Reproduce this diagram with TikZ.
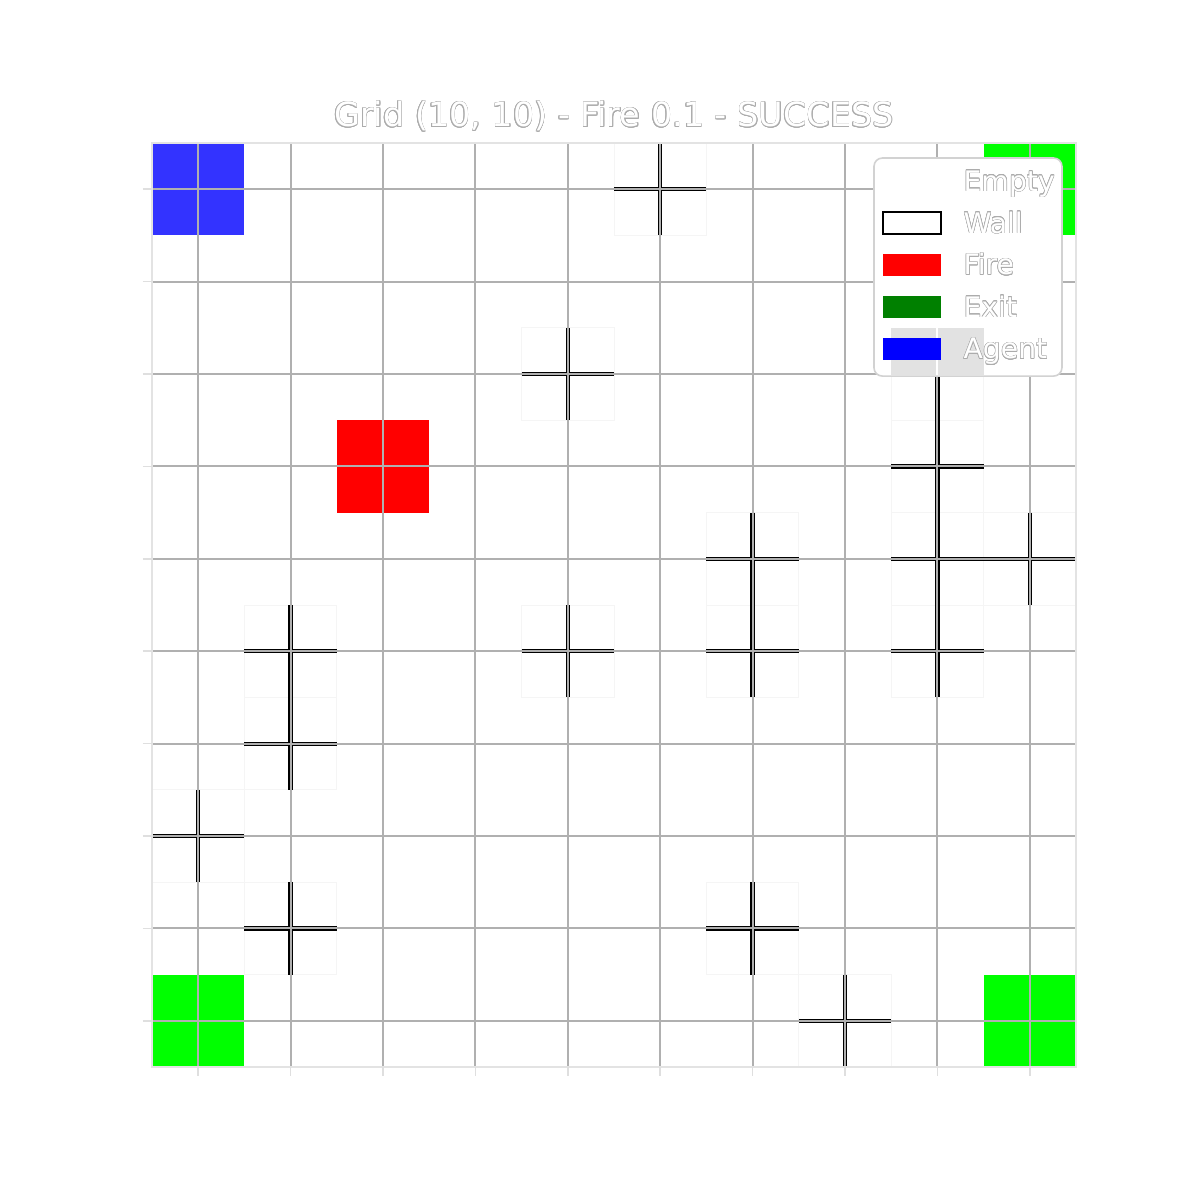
\documentclass[tikz,border=0pt]{standalone}
\usepackage{fontspec}
\setmainfont{DejaVu Sans}
\usepackage{contour}
\contourlength{0.16pt}
\usetikzlibrary{positioning}

\definecolor{agentblue}{RGB}{51,51,255}
\definecolor{exitlime}{RGB}{0,255,0}
\definecolor{firered}{RGB}{255,0,0}
\definecolor{gridgray}{RGB}{176,176,176}
\definecolor{legendgreen}{RGB}{0,128,0}
\definecolor{legendblue}{RGB}{0,0,255}
\definecolor{shadegray}{RGB}{226,226,226}
\newcommand{\hollowtxt}[1]{\contour{gray!65}{\textcolor{white}{#1}}}

\begin{document}
\begin{tikzpicture}[x=1cm,y=-1cm,
gridline/.style={draw=gridgray, line width=0.6pt},
wallout/.style={draw=black, line width=1.3pt},
wallin/.style={draw=gridgray, line width=0.6pt},
tickmark/.style={draw=gray!25, line width=0.5pt},
legendframe/.style={draw=gray!35, line width=0.5pt, fill=white, rounded corners=0.09cm},
legendpatch/.style={minimum width=0.628cm, minimum height=0.238cm, inner sep=0, outer sep=0},
legendtext/.style={anchor=base west, inner sep=0, font=\fontsize{8.7}{10}\selectfont},
titletext/.style={anchor=base, inner sep=0, font=\fontsize{10.3}{12}\selectfont}
]
\useasboundingbox (-1.645,-1.548) rectangle (11.342,11.439);

% Coloured cells
\fill[agentblue] (0,0) rectangle ++(1,1);
\foreach \c/\r in {9/0, 0/9, 9/9}
  \fill[exitlime] (\c,\r) rectangle ++(1,1);
\fill[firered] (2,3) rectangle ++(1,1);

% Faint edges of wall cells
\foreach \c/\r in {5/0, 4/2, 8/2, 8/3, 6/4, 8/4, 9/4, 1/5, 4/5, 6/5, 8/5, 1/6, 0/7, 1/8, 6/8, 7/9}
  \draw[gray!8, line width=0.3pt] (\c,\r) rectangle ++(1,1);

% Grid lines through cell centres
\foreach \i in {0,...,9} {
  \draw[gridline] (\i+0.5,0) -- (\i+0.5,10);
  \draw[gridline] (0,\i+0.5) -- (10,\i+0.5);
}

% Wall cells
\foreach \c/\r in {5/0, 4/2, 8/2, 8/3, 6/4, 8/4, 9/4, 1/5, 4/5, 6/5, 8/5, 1/6, 0/7, 1/8, 6/8, 7/9} {
  \draw[wallout] (\c+0.5,\r) -- (\c+0.5,\r+1);
  \draw[wallout] (\c,\r+0.5) -- (\c+1,\r+0.5);
}
\foreach \c/\r in {5/0, 4/2, 8/2, 8/3, 6/4, 8/4, 9/4, 1/5, 4/5, 6/5, 8/5, 1/6, 0/7, 1/8, 6/8, 7/9} {
  \draw[wallin] (\c+0.5,\r) -- (\c+0.5,\r+1);
  \draw[wallin] (\c,\r+0.5) -- (\c+1,\r+0.5);
}

% Frame and ticks
\draw[gray!22, line width=0.5pt] (0,0) rectangle (10,10);
\foreach \i in {0,...,9} {
  \draw[tickmark] (-0.1,\i+0.5) -- (0,\i+0.5);
  \draw[tickmark] (\i+0.5,10) -- (\i+0.5,10.1);
}

% Title
\node[titletext] (title) at (5,-0.175) {\hollowtxt{Grid (10, 10) - Fire 0.1 - SUCCESS}};

% Legend
\draw[legendframe] (7.814,0.162) rectangle (9.848,2.522);
\fill[shadegray] (8,2) rectangle (9,2.512);
\draw[white, line width=0.6pt] (8.5,2) -- (8.5,2.512);
\node[legendpatch] (pempty) at (8.225,0.411) {};
\node[legendpatch, draw=black, line width=0.5pt, fill=white] (pwall) at (8.225,0.866) {};
\node[legendpatch, fill=firered] (pfire) at (8.225,1.320) {};
\node[legendpatch, fill=legendgreen] (pexit) at (8.225,1.775) {};
\node[legendpatch, fill=legendblue] (pagent) at (8.225,2.229) {};
\node[legendtext] (tempty) at (8.777,0.519) {\hollowtxt{Empty}};
\node[legendtext] (twall) at (8.777,0.974) {\hollowtxt{Wall}};
\node[legendtext] (tfire) at (8.777,1.428) {\hollowtxt{Fire}};
\node[legendtext] (texit) at (8.777,1.883) {\hollowtxt{Exit}};
\node[legendtext] (tagent) at (8.777,2.337) {\hollowtxt{Agent}};
\end{tikzpicture}
\end{document}
